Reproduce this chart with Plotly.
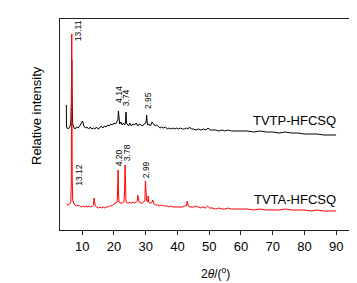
import plotly.graph_objects as go

# --- data ---
two_theta_red = [5.0, 5.5, 6.0, 6.4, 6.55, 6.7, 6.85, 7.0, 7.3, 7.7, 8.2, 8.7, 9.2, 9.7, 10.2, 10.7, 11.2, 11.7,
                 12.2, 12.7, 13.2, 13.55, 13.7, 13.85, 14.1, 14.6, 15.1, 15.6, 16.1, 16.6, 17.1, 17.6, 18.1, 18.6,
                 19.1, 19.6, 20.1, 20.6, 21.0, 21.15, 21.3, 21.45, 21.6, 21.9, 22.3, 22.7, 23.1, 23.35, 23.5, 23.65, 23.8, 24.2,
                 24.6, 25.0, 25.5, 26.0, 26.5, 27.0, 27.35, 27.5, 27.65, 27.9, 28.4, 28.9, 29.4, 29.75, 29.9, 30.05, 30.3, 30.65, 30.8, 30.95,
                 31.2, 31.7, 32.05, 32.2, 32.35, 32.6, 33.2, 33.8, 34.4, 35.0, 35.6, 36.2, 36.8, 37.4, 38.0, 38.6,
                 39.2, 39.8, 40.4, 41.0, 41.6, 42.2, 42.8, 43.1, 43.4, 44.0, 44.6, 45.2, 45.8, 46.5,
                 47.2, 48.0, 48.8, 49.5, 50.2, 51.0, 52.0, 53.0, 54.0, 55.0, 56.0, 57.0, 58.0, 59.0,
                 60.0, 62.0, 64.0, 66.0, 68.0, 70.0, 72.0, 74.0, 76.0, 78.0, 80.0, 82.0, 84.0, 86.0,
                 88.0, 90.0]
intensity_red = [26, 25, 26, 28, 45, 196, 50, 30, 27, 25, 24, 25, 24, 23, 24, 23, 24, 23,
                 24, 23, 24, 25, 32, 25, 24, 23, 22, 23, 22, 23, 22, 23, 23, 24,
                 24, 25, 26, 27, 28, 38, 60, 36, 28, 27, 27, 27, 28, 36, 65, 36, 28, 27,
                 27, 28, 27, 28, 27, 28, 29, 35, 29, 28, 27, 27, 28, 30, 49, 31, 29, 28, 34, 28,
                 27, 27, 28, 30, 27, 26, 25, 25, 24, 25, 24, 24, 24, 23, 24, 23,
                 23, 23, 23, 23, 23, 24, 24, 29, 24, 23, 23, 23, 24, 23,
                 22, 23, 22, 24, 22, 22, 21, 22, 21, 21, 22, 21, 21, 21,
                 21, 21, 20, 21, 20, 20, 20, 21, 20, 20, 20, 19, 20, 19,
                 19, 19]

two_theta_black = [5.0, 5.05, 5.3, 5.6, 6.0, 6.4, 6.55, 6.7, 6.85, 7.0, 7.3, 7.7, 8.2, 8.7, 9.2, 9.7, 10.1, 10.5, 11.0,
                   11.5, 12.0, 12.5, 13.0, 13.5, 14.0, 14.5, 15.0, 15.5, 16.0, 16.5, 17.0, 17.5, 18.0,
                   18.5, 19.0, 19.5, 20.0, 20.5, 21.0, 21.25, 21.4, 21.55, 21.8, 22.2, 22.6, 23.0, 23.4, 23.65, 23.8, 23.95, 24.2,
                   24.6, 25.0, 25.5, 26.0, 26.5, 27.0, 27.5, 28.0, 28.5, 29.0, 29.5, 30.0, 30.15, 30.3, 30.45, 30.6,
                   31.0, 31.5, 32.0, 32.5, 33.0, 33.5, 34.0, 34.5, 35.0, 35.6, 36.2, 36.8, 37.4, 38.0,
                   38.6, 39.2, 39.8, 40.4, 41.0, 41.6, 42.2, 42.8, 43.3, 43.8, 44.4, 45.0, 45.8, 46.6,
                   47.4, 48.2, 49.0, 49.6, 50.4, 51.2, 52.0, 53.0, 54.0, 55.0, 56.0, 57.0, 58.0, 59.0,
                   60.0, 62.0, 64.0, 66.0, 68.0, 70.0, 72.0, 74.0, 76.0, 78.0, 80.0, 82.0, 84.0, 86.0,
                   88.0, 90.0]
intensity_black = [125, 103, 102, 101, 103, 106, 125, 170, 125, 106, 103, 101, 103, 102, 104, 107, 109, 104, 102,
                   103, 101, 103, 101, 102, 101, 103, 101, 102, 104, 102, 104, 103, 105,
                   104, 106, 105, 107, 106, 108, 110, 119, 108, 106, 108, 105, 107, 105, 108, 118, 107, 106,
                   104, 107, 104, 106, 105, 107, 104, 106, 105, 104, 106, 107, 109, 115, 108, 105,
                   106, 104, 108, 106, 104, 105, 103, 102, 103, 102, 103, 101, 102, 101,
                   102, 101, 102, 101, 102, 101, 101, 102, 101, 103, 101, 101, 100, 101,
                   100, 101, 100, 102, 100, 100, 100, 99, 100, 99, 100, 99, 99, 99,
                   99, 99, 98, 99, 98, 98, 97, 98, 97, 97, 96, 96, 96, 95,
                   95, 95]

peak_labels_black = ["13.11", "4.14", "3.74", "2.95"]
peak_label_x_black = [8.6, 21.4, 23.7, 30.6]
peak_label_y_black = [187, 125, 122, 119]

peak_labels_red = ["13.12", "4.20", "3.78", "2.99"]
peak_label_x_red = [8.9, 21.5, 24.0, 30.0]
peak_label_y_red = [42, 62, 67, 50]

series_names = ["TVTP-HFCSQ", "TVTA-HFCSQ"]
series_label_y = [110, 31]
x_tick_vals = [10, 20, 30, 40, 50, 60, 70, 80, 90]

FONT = "Arial, Liberation Sans, Helvetica, sans-serif"

fig = go.Figure()
fig.add_trace(go.Scatter(x=two_theta_black, y=intensity_black, mode="lines",
                         line=dict(color="black", width=1), showlegend=False))
fig.add_trace(go.Scatter(x=two_theta_red, y=intensity_red, mode="lines",
                         line=dict(color="#ff0000", width=1), showlegend=False))

annotations = []
for t, x, y in zip(peak_labels_black + peak_labels_red,
                   peak_label_x_black + peak_label_x_red,
                   peak_label_y_black + peak_label_y_red):
    annotations.append(dict(x=x, y=y, text=t, textangle=-90, showarrow=False,
                            xanchor="center", yanchor="bottom",
                            font=dict(size=8.5, color="black", family=FONT)))
for name, y in zip(series_names, series_label_y):
    annotations.append(dict(x=90.5, y=y, text=name, showarrow=False,
                            xanchor="right", yanchor="middle",
                            font=dict(size=13, color="black", family=FONT)))
# axis titles
annotations.append(dict(xref="paper", yref="paper", x=(207 - 52) / 292, y=-(265 - 222) / 211,
                        text="2<i>θ</i>/(<sup>o</sup>)", showarrow=False,
                        xanchor="center", yanchor="middle",
                        font=dict(size=12, color="black", family=FONT)))
annotations.append(dict(xref="paper", yref="paper", x=-(52 - 28) / 292, y=(222 - 108) / 211,
                        text="Relative intensity", textangle=-90, showarrow=False,
                        xanchor="center", yanchor="middle",
                        font=dict(size=13, color="black", family=FONT)))

fig.update_layout(
    width=357, height=283,
    margin=dict(l=52, r=13, t=11, b=61),
    paper_bgcolor="white", plot_bgcolor="white",
    font=dict(family=FONT, color="black"),
    annotations=annotations,
    xaxis=dict(range=[3, 95], tickvals=x_tick_vals, ticks="outside", ticklen=4,
               tickcolor="#222", tickwidth=1, showline=True, mirror=True,
               linecolor="#222", linewidth=1.3, showgrid=False, zeroline=False,
               tickfont=dict(size=13, color="black", family=FONT)),
    yaxis=dict(range=[0, 211], showticklabels=False, ticks="", showline=True,
               mirror=True, linecolor="#222", linewidth=1.3, showgrid=False,
               zeroline=False),
)

fig.write_html("out.html")
